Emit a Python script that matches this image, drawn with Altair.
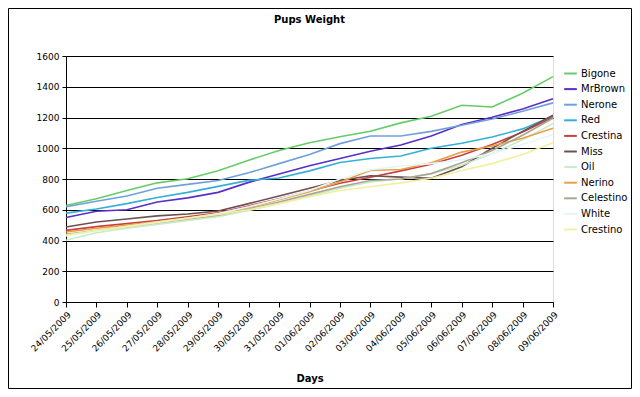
import altair as alt
import pandas as pd

days = ["24/05/2009", "25/05/2009", "26/05/2009", "27/05/2009", "28/05/2009",
        "29/05/2009", "30/05/2009", "31/05/2009", "01/06/2009", "02/06/2009",
        "03/06/2009", "04/06/2009", "05/06/2009", "06/06/2009", "07/06/2009",
        "08/06/2009", "09/06/2009"]

names = ["Bigone", "MrBrown", "Nerone", "Red", "Crestina", "Miss", "Oil",
         "Nerino", "Celestino", "White", "Crestino"]

bigone    = [628, 672, 725, 775, 802, 853, 922, 985, 1036, 1075, 1111, 1165, 1208, 1280, 1268, 1358, 1466]
mrbrown   = [550, 590, 600, 650, 677, 713, 778, 832, 886, 933, 980, 1021, 1079, 1154, 1202, 1255, 1322]
nerone    = [620, 655, 690, 740, 765, 790, 840, 900, 960, 1030, 1080, 1080, 1110, 1150, 1190, 1240, 1295]
red       = [578, 605, 640, 680, 713, 752, 791, 806, 853, 907, 933, 950, 1000, 1032, 1073, 1126, 1208]
crestina  = [466, 490, 510, 530, 555, 580, 625, 672, 722, 772, 811, 853, 896, 955, 1025, 1105, 1200]
miss      = [488, 520, 540, 560, 572, 592, 640, 690, 740, 790, 821, 812, 805, 880, 1000, 1110, 1215]
oil       = [402, 450, 480, 505, 530, 555, 595, 640, 690, 740, 780, 800, 835, 890, 965, 1055, 1160]
nerino    = [455, 480, 500, 522, 548, 572, 615, 665, 718, 780, 855, 862, 905, 975, 1015, 1065, 1130]
celestino = [440, 465, 490, 515, 540, 565, 605, 650, 700, 750, 790, 800, 835, 905, 985, 1085, 1195]
white     = [430, 462, 492, 518, 545, 575, 620, 670, 725, 800, 860, 885, 900, 925, 965, 1025, 1090]
crestino  = [435, 465, 490, 520, 545, 570, 600, 640, 685, 725, 750, 775, 805, 855, 900, 960, 1035]

series = [bigone, mrbrown, nerone, red, crestina, miss, oil, nerino, celestino, white, crestino]

colors = ["#66cc66", "#5a2ec8", "#6fa0d8", "#33b0d8", "#c84040", "#6e5050",
          "#c8ecc8", "#e8a048", "#a8a890", "#e4f6fa", "#f0f0a0"]

rows = []
for name, vals in zip(names, series):
    for d, v in zip(days, vals):
        rows.append({"Day": d, "Pup": name, "Weight": v})
df = pd.DataFrame(rows)

FONT = "DejaVu Sans"

lines = alt.Chart(df).mark_line(strokeWidth=1.6).encode(
    x=alt.X("Day:O", sort=days,
            scale=alt.Scale(type="point", padding=0),
            axis=alt.Axis(title="Days", labelAngle=-45, labelFontSize=9,
                          labelFont=FONT, titleFont=FONT, titleFontSize=10,
                          titleFontWeight="bold", titlePadding=20,
                          domainColor="black", tickColor="black",
                          labelColor="black", titleColor="black",
                          tickSize=5, labelPadding=3, grid=False)),
    y=alt.Y("Weight:Q", scale=alt.Scale(domain=[0, 1600], nice=False),
            axis=alt.Axis(title=None, values=list(range(0, 1601, 200)),
                          format="d",
                          grid=True, gridColor="black", gridOpacity=1,
                          gridWidth=1, labelFontSize=9, labelFont=FONT,
                          labelColor="black", domainColor="black",
                          tickColor="black", tickSize=4, labelPadding=3)),
    color=alt.Color("Pup:N", scale=alt.Scale(domain=names, range=colors),
                    sort=names,
                    legend=alt.Legend(title=None, orient="none", legendX=497,
                                      legendY=10, symbolType="stroke",
                                      symbolStrokeWidth=2, symbolSize=160,
                                      labelFont=FONT, labelFontSize=10,
                                      labelColor="black", rowPadding=2.6,
                                      labelOffset=3)),
)

frame = alt.Chart(pd.DataFrame({"a": [0]})).mark_rect(
    fill="transparent", stroke="black", strokeWidth=1
).encode(
    x=alt.value(-57.5), x2=alt.value(565.5),
    y=alt.value(-47.5), y2=alt.value(332.5)
)

chart = alt.layer(lines, frame).properties(
    width=487, height=246,
    title=alt.TitleParams("Pups Weight", font=FONT, fontSize=10,
                          fontWeight="bold", anchor="middle", offset=0,
                          dy=17, frame="group", color="black"),
    autosize=alt.AutoSizeParams(type="none"),
    padding={"left": 58, "right": 79, "top": 48, "bottom": 87},
).configure_view(
    fill="#c0c0c0", stroke="#808080", strokeWidth=1
).configure(background="white")

chart.save("out.html", embed_options={"renderer": "svg", "actions": False})
